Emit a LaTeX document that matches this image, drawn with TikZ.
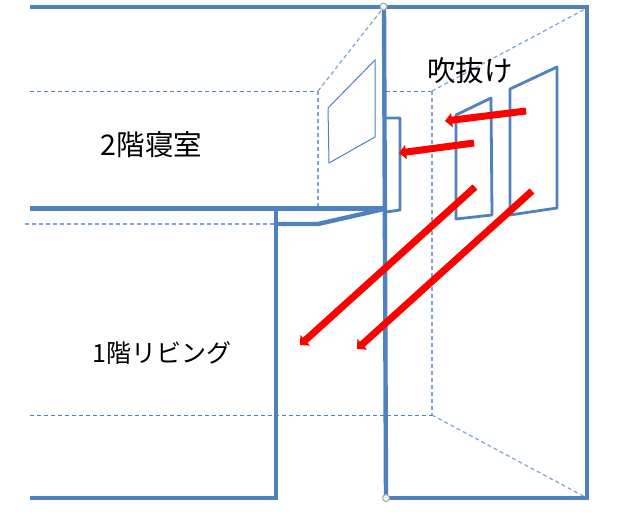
\documentclass[tikz,border=0pt]{standalone}
\usepackage{fontspec}
\setmainfont{Noto Sans CJK JP}
\usetikzlibrary{arrows.meta}
\definecolor{wallblue}{HTML}{4F81BD}
\definecolor{dashblue}{HTML}{7FA3D1}
\tikzset{
  wall/.style={draw=wallblue,line width=4.4pt,line join=miter},
  pane/.style={draw=wallblue,line width=2.8pt,line join=round},
  thinpane/.style={draw=wallblue,line width=1pt},
  guide/.style={draw=dashblue,line width=1.2pt,dash pattern=on 4pt off 3pt},
  guidedark/.style={draw=wallblue,line width=0.9pt,dash pattern=on 4pt off 3pt},
  flow/.style={draw=red,line width=7pt,-{Triangle[length=7pt,width=14pt]}},
  lbl/.style={inner sep=0pt,font=\fontsize{25}{25}\selectfont},
  lblbig/.style={inner sep=0pt,font=\fontsize{28.5}{28.5}\selectfont},
  handle/.style={circle,draw=gray!70,fill=cyan!8,line width=1pt,minimum size=7pt,inner sep=0pt}
}
\begin{document}
\begin{tikzpicture}[x=1pt,y=-1pt]
\useasboundingbox (0,0) rectangle (620,522);
\fill[white] (0,0) rectangle (620,522);
% guide lines
\coordinate (ul) at (318,91);
\coordinate (ur) at (432,91);
\coordinate (lr) at (432,415);
\coordinate (tm) at (384,7);
\coordinate (tr) at (587,8);
\coordinate (br) at (587,498);
\draw[guidedark] (30,91) -- (ul);
\draw[guidedark] (386,91) -- (ur);
\draw[guide] (ul) -- (tm);
\draw[guide] (ul) -- (318,208);
\draw[guide] (ur) -- (tr);
\draw[guide] (ur) -- (lr);
\draw[guide] (lr) -- (br);
\draw[guidedark] (30,415) -- (lr);
\draw[guide] (25,224) -- (276,224);
% walls
\draw[wall] (30,7) -- (587,7) -- (587,498) -- (386,498);
\draw[wall] (384,7) -- (386,498);
\draw[wall] (30,208.5) -- (384,208.5);
\draw[wall] (276,208.5) -- (276,498) -- (30,498);
\draw[wall] (276,224) -- (318,224) -- (384,209);
% panes
\draw[thinpane] (328,108) -- (375,60) -- (375,137) -- (329,163) -- cycle;
\draw[pane] (386,118) -- (400,118) -- (400,210) -- (386,212);
\draw[pane] (456,115) -- (491,98) -- (492,215) -- (456,219) -- cycle;
\draw[pane] (510,89) -- (557,67) -- (557,208) -- (510,215) -- cycle;
% arrows
\coordinate (a1s) at (526,111); \coordinate (a1e) at (445,121);
\coordinate (a2s) at (474,143); \coordinate (a2e) at (399,153);
\coordinate (a3s) at (475,187); \coordinate (a3e) at (300,345);
\coordinate (a4s) at (532,191); \coordinate (a4e) at (357,349);
\draw[flow] (a1s) -- (a1e);
\draw[flow] (a2s) -- (a2e);
\draw[flow] (a3s) -- (a3e);
\draw[flow] (a4s) -- (a4e);
% handles
\node[handle] (h1) at (383.5,6.5) {};
\node[handle] (h2) at (386,498) {};
% labels
\node[lblbig] (bed) at (151.5,145) {2階寝室};
\node[lblbig] (void) at (470,71) {吹抜け};
\node[lbl] (liv) at (162,353) {1階リビング};
\end{tikzpicture}
\end{document}
